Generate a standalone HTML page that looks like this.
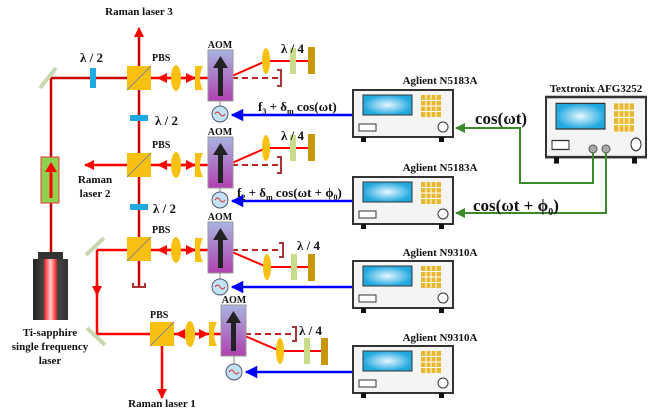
<!DOCTYPE html>
<html><head><meta charset="utf-8"><style>
html,body{margin:0;padding:0;background:#fff;width:653px;height:410px;overflow:hidden}
text{font-family:"Liberation Serif",serif;font-weight:bold;fill:#111}
</style></head><body>
<svg width="653" height="410" viewBox="0 0 653 410" xmlns="http://www.w3.org/2000/svg">
<defs>
<linearGradient id="aom" x1="0" y1="0" x2="0" y2="1"><stop offset="0" stop-color="#a8b4e0"/><stop offset="1" stop-color="#b040b0"/></linearGradient>
<radialGradient id="scr"><stop offset="0" stop-color="#e8f8ff"/><stop offset="1" stop-color="#20a8e0"/></radialGradient>
<linearGradient id="las" x1="0" x2="1"><stop offset="0" stop-color="#222"/><stop offset="0.3" stop-color="#444"/><stop offset="0.35" stop-color="#f33"/><stop offset="0.5" stop-color="#fcc"/><stop offset="0.65" stop-color="#f33"/><stop offset="0.7" stop-color="#444"/><stop offset="1" stop-color="#333"/></linearGradient>
<g id="inst">
<rect x="0" y="0" width="100" height="47" fill="#f4f4f4" stroke="#333" stroke-width="2"/>
<rect x="10" y="5" width="49" height="20" fill="url(#scr)" stroke="#333" stroke-width="1"/>
<rect x="68" y="5" width="20" height="22" fill="#e8b830" stroke="#fff" stroke-width="0"/>
<path d="M73 5V27M78 5V27M83 5V27M68 10.5H88M68 16H88M68 21.5H88" stroke="#fff" stroke-width="1"/>
<rect x="6" y="34" width="17" height="7" fill="#fff" stroke="#333"/>
<circle cx="90" cy="37" r="5" fill="#fff" stroke="#333"/>
<rect x="8" y="47" width="5" height="5" fill="#111"/><rect x="86" y="47" width="5" height="5" fill="#111"/>
</g>
<g id="aomg">
<rect x="0" y="0" width="25" height="51" fill="url(#aom)" stroke="#999" stroke-width="1"/>
<rect x="10" y="16" width="5" height="30" fill="#222"/><path d="M5 18L12.5 6L20 18Z" fill="#222"/>
</g>
<g id="src"><circle r="8" fill="#bfe4f4" stroke="#557"/><path d="M-5 0q2.5-4 5 0t5 0" fill="none" stroke="#d33"/></g>
<g id="pbs"><rect x="-12" y="-12" width="24" height="24" fill="#f8c010"/><path d="M-12 12L12-12" stroke="#888"/></g>
<g id="lens"><ellipse rx="5" ry="13" fill="#f8c010"/></g>
<g id="cyl"><path d="M-4-12H4Q-2 0 4 12H-4Z" fill="#f8c010"/></g>
<marker id="ar" viewBox="0 0 10 10" refX="9" refY="5" markerWidth="4" markerHeight="4" orient="auto-start-reverse"><path d="M0 0L10 5L0 10Z" fill="#f00"/></marker>
<marker id="bl" viewBox="0 0 10 10" refX="9" refY="5" markerWidth="5" markerHeight="5" orient="auto"><path d="M0 0L10 5L0 10Z" fill="#00f"/></marker>
<marker id="gr" viewBox="0 0 10 10" refX="9" refY="5" markerWidth="5" markerHeight="5" orient="auto"><path d="M0 0L10 5L0 10Z" fill="#3a8a2a"/></marker>
</defs>

<!-- main laser lines -->
<path d="M51 252V78H139" stroke="#c00" stroke-width="2.5" fill="none"/>
<path d="M139 78H208" stroke="#f00" stroke-width="2.5"/>
<path d="M139 287V28" stroke="#c00" stroke-width="2.5" marker-end="url(#ar)"/>
<path d="M139 165H85" stroke="#f00" stroke-width="2.5" marker-end="url(#ar)"/>
<path d="M97 250H208" stroke="#f00" stroke-width="2.5"/>
<path d="M97 250V334H221" stroke="#f00" stroke-width="2.5" fill="none"/>
<path d="M97 283V295" stroke="#f00" stroke-width="2.5" marker-end="url(#ar)"/>
<path d="M162 334V398" stroke="#f00" stroke-width="2.5" marker-end="url(#ar)"/>
<path d="M139 165H208" stroke="#f00" stroke-width="2.5"/>
<!-- bidirectional arrows -->
<path d="M158 78H195" stroke="#f00" stroke-width="2.5" marker-start="url(#ar)" marker-end="url(#ar)"/>
<path d="M158 165H195" stroke="#f00" stroke-width="2.5" marker-start="url(#ar)" marker-end="url(#ar)"/>
<path d="M158 250H195" stroke="#f00" stroke-width="2.5" marker-start="url(#ar)" marker-end="url(#ar)"/>
<path d="M176 334H208" stroke="#f00" stroke-width="2.5" marker-start="url(#ar)" marker-end="url(#ar)"/>
<path d="M139 287h-6v-4M139 287h6v-4" stroke="#a33" stroke-width="2" fill="none"/>

<!-- mirrors -->
<path d="M40 88L56 68" stroke="#c8d8b0" stroke-width="4"/>
<path d="M86 255L104 238" stroke="#c8d8b0" stroke-width="4"/>
<path d="M87 328L105 345" stroke="#c8d8b0" stroke-width="4"/>

<!-- isolator -->
<rect x="41" y="157" width="18" height="46" fill="#8ed050" stroke="#e33"/>
<path d="M51 198V170" stroke="#f00" stroke-width="3"/><path d="M45 172L51 162L57 172Z" fill="#f00"/>
<!-- laser -->
<rect x="38" y="252" width="25" height="8" fill="#333"/>
<rect x="33" y="259" width="35" height="61" fill="url(#las)"/>

<!-- waveplates λ/2 -->
<rect x="90" y="68" width="6" height="20" fill="#20a8e0"/>
<rect x="130" y="115" width="18" height="6" fill="#20a8e0"/>
<rect x="130" y="204" width="18" height="6" fill="#20a8e0"/>

<!-- PBS -->
<use href="#pbs" x="139" y="78"/><use href="#pbs" x="139" y="165"/><use href="#pbs" x="139" y="249"/><use href="#pbs" x="162" y="334"/>
<use href="#lens" x="176" y="78"/><use href="#lens" x="176" y="165"/><use href="#lens" x="176" y="250"/><use href="#lens" x="190" y="334"/>
<use href="#cyl" x="199" y="78"/><use href="#cyl" x="199" y="165"/><use href="#cyl" x="199" y="250"/><use href="#cyl" x="213" y="334"/>

<!-- AOM rows -->
<g id="row1">
<path d="M232 76L266 61H312" stroke="#f00" stroke-width="2" fill="none"/>
<path d="M232 78H281" stroke="#b22" stroke-width="2" stroke-dasharray="6,4"/>
<path d="M277 70h4v16h-4" stroke="#a33" stroke-width="2" fill="none"/>
<ellipse cx="266" cy="61" rx="4" ry="13" fill="#f8c010"/>
<rect x="290" y="48" width="6" height="26" fill="#c8dc8a"/>
<rect x="308" y="47" width="7" height="27" fill="#c8960a"/>
</g>
<use href="#row1" x="0" y="87"/>
<g id="row3">
<path d="M232 252L267 267H312" stroke="#f00" stroke-width="2" fill="none"/>
<path d="M232 250H283" stroke="#b22" stroke-width="2" stroke-dasharray="6,4"/>
<path d="M279 243h4v14h-4" stroke="#a33" stroke-width="2" fill="none"/>
<ellipse cx="267" cy="267" rx="4" ry="13" fill="#f8c010"/>
<rect x="291" y="254" width="6" height="26" fill="#c8dc8a"/>
<rect x="308" y="254" width="7" height="27" fill="#c8960a"/>
</g>
<use href="#row3" x="13" y="84"/>

<use href="#aomg" x="208" y="50"/><use href="#aomg" x="208" y="137"/><use href="#aomg" x="208" y="222"/><use href="#aomg" x="221" y="305"/>
<path d="M220 101V106M220 188V192M220 273V279M234 356V364" stroke="#888"/>
<use href="#src" x="220" y="114"/><use href="#src" x="220" y="200"/><use href="#src" x="220" y="287"/><use href="#src" x="234" y="372"/>

<!-- blue lines -->
<path d="M353 115H232" stroke="#00f" stroke-width="2.5" marker-end="url(#bl)"/>
<path d="M353 201H232" stroke="#00f" stroke-width="2.5" marker-end="url(#bl)"/>
<path d="M353 287H232" stroke="#00f" stroke-width="2.5" marker-end="url(#bl)"/>
<path d="M353 372H246" stroke="#00f" stroke-width="2.5" marker-end="url(#bl)"/>

<!-- instruments -->
<use href="#inst" x="353" y="90"/><use href="#inst" x="353" y="177"/><use href="#inst" x="353" y="261"/><use href="#inst" x="353" y="346"/>
<g transform="translate(546,97) scale(1,1.28)"><use href="#inst"/></g>
<circle cx="593" cy="149" r="4" fill="#aaa" stroke="#555"/><circle cx="606" cy="149" r="4" fill="#aaa" stroke="#555"/>
<!-- green -->
<path d="M593 153V183H520V128H456" stroke="#3a8a2a" stroke-width="2" fill="none" marker-end="url(#gr)"/>
<path d="M606 153V213H456" stroke="#3a8a2a" stroke-width="2" fill="none" marker-end="url(#gr)"/>

<!-- labels -->
<g font-size="11">
<text x="139" y="15" text-anchor="middle">Raman laser 3</text>
<text x="162" y="407" text-anchor="middle">Raman laser 1</text>
<text x="95" y="183" text-anchor="middle" font-weight="normal">Raman</text>
<text x="95" y="197" text-anchor="middle">laser 2</text>
<text x="50" y="336" text-anchor="middle">Ti-sapphire</text>
<text x="50" y="350" text-anchor="middle">single frequency</text>
<text x="50" y="364" text-anchor="middle">laser</text>
<text x="152" y="61" font-size="10">PBS</text><text x="152" y="148" font-size="10">PBS</text><text x="152" y="233" font-size="10">PBS</text><text x="150" y="318" font-size="10">PBS</text>
<text x="220" y="48" text-anchor="middle" font-size="10">AOM</text><text x="220" y="135" text-anchor="middle" font-size="10">AOM</text><text x="220" y="220" text-anchor="middle" font-size="10">AOM</text><text x="234" y="303" text-anchor="middle" font-size="10">AOM</text>
<text x="440" y="84" text-anchor="middle">Aglient N5183A</text>
<text x="440" y="171" text-anchor="middle">Aglient N5183A</text>
<text x="440" y="256" text-anchor="middle">Aglient N9310A</text>
<text x="440" y="341" text-anchor="middle">Aglient N9310A</text>
<text x="596" y="92" text-anchor="middle">Textronix AFG3252</text>
</g>
<g font-size="13">
<text x="80" y="62">λ / 2</text><text x="155" y="125">λ / 2</text><text x="153" y="213">λ / 2</text>
<text x="281" y="53">λ / 4</text><text x="281" y="140">λ / 4</text><text x="297" y="250">λ / 4</text><text x="299" y="335">λ / 4</text>
<text x="258" y="111">f<tspan font-size="8" dy="3">3</tspan><tspan dy="-3"> + δ</tspan><tspan font-size="8" dy="3">m</tspan><tspan dy="-3"> cos(ωt)</tspan></text>
<text x="237" y="197">f<tspan font-size="8" dy="3">2</tspan><tspan dy="-3"> + δ</tspan><tspan font-size="8" dy="3">m</tspan><tspan dy="-3"> cos(ωt + ϕ</tspan><tspan font-size="8" dy="3">0</tspan><tspan dy="-3">)</tspan></text>
</g>
<text x="475" y="124" font-size="17">cos(ωt)</text>
<text x="473" y="211" font-size="17">cos(ωt + ϕ<tspan font-size="10" dy="4">0</tspan><tspan dy="-4">)</tspan></text>
</svg>
</body></html>
